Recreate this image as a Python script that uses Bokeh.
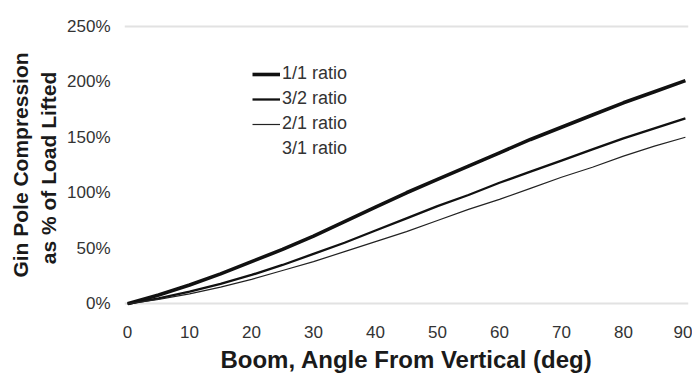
from bokeh.plotting import figure
from bokeh.models import Range1d, PrintfTickFormatter, FixedTicker, Legend, LegendItem
from bokeh.embed import file_html
from bokeh.resources import INLINE

angles = [0, 5, 10, 15, 20, 25, 30, 35, 40, 45, 50, 55, 60, 65, 70, 75, 80, 85, 90]
ratio_1_1 = [0, 8, 17, 27, 38, 49, 61, 74, 87, 100, 112, 124, 136, 148, 159, 170, 181, 191, 201]
ratio_3_2 = [0, 5, 11, 18, 26, 35, 45, 55, 66, 77, 88, 98, 109, 119, 129, 139, 149, 158, 167]
ratio_2_1 = [0, 4, 9, 15, 22, 30, 38, 47, 56, 65, 75, 85, 94, 104, 114, 123, 133, 142, 150]
ratio_3_1 = []  # legend entry only; no line is visible in the reference
x_ticks = [0, 10, 20, 30, 40, 50, 60, 70, 80, 90]
y_ticks = [0, 50, 100, 150, 200, 250]

FONT = "Liberation Sans"

p = figure(frame_width=564, frame_height=281, output_backend="svg", toolbar_location=None,
           x_range=Range1d(-0.5, 90.5), y_range=Range1d(-1.5, 251.5),
           min_border_left=124, min_border_right=4, min_border_top=24, min_border_bottom=70)
p.outline_line_color = None
p.background_fill_color = "white"

r11 = p.line(angles, ratio_1_1, line_color="#111111", line_width=3.6)
r32 = p.line(angles, ratio_3_2, line_color="#111111", line_width=2.3)
r21 = p.line(angles, ratio_2_1, line_color="#222222", line_width=1.2)
r31 = p.line(x=[], y=[], line_color="#222222", line_width=1.0, line_alpha=0)

p.xgrid.grid_line_color = None
p.ygrid.ticker = FixedTicker(ticks=[0, 250])
p.ygrid.grid_line_color = "#e2e2e2"
p.ygrid.grid_line_width = 2

p.xaxis.ticker = FixedTicker(ticks=x_ticks)
p.yaxis.ticker = FixedTicker(ticks=y_ticks)
p.yaxis.formatter = PrintfTickFormatter(format="%d%%")
for ax in (p.xaxis, p.yaxis):
    ax.axis_line_color = None
    ax.major_tick_line_color = None
    ax.minor_tick_line_color = None
    ax.major_label_text_font = FONT
    ax.major_label_text_font_size = "17px"
    ax.major_label_text_color = "#333333"
    ax.axis_label_text_font = FONT
    ax.axis_label_text_font_style = "bold"
    ax.axis_label_text_color = "#1a1a1a"
p.xaxis.major_label_standoff = 14
p.yaxis.major_label_standoff = 8
p.xaxis.axis_label = "Boom, Angle From Vertical (deg)"
p.xaxis.axis_label_text_font_size = "24px"
p.xaxis.axis_label_standoff = 5
p.yaxis.axis_label = "Gin Pole Compression\nas % of  Load Lifted"
p.yaxis.axis_label_text_font_size = "21px"
p.yaxis.axis_label_standoff = 4

legend = Legend(items=[
    LegendItem(label="1/1 ratio", renderers=[r11]),
    LegendItem(label="3/2 ratio", renderers=[r32]),
    LegendItem(label="2/1 ratio", renderers=[r21]),
    LegendItem(label="3/1 ratio", renderers=[r31]),
], location=(128, 146))
legend.border_line_color = None
legend.background_fill_alpha = 0
legend.padding = 0
legend.margin = 0
legend.spacing = 4
legend.glyph_width = 28
legend.glyph_height = 20
legend.label_height = 20
legend.label_standoff = 2
legend.label_text_font = FONT
legend.label_text_font_size = "18px"
legend.label_text_color = "#333333"
p.add_layout(legend, "center")

open("out.html", "w").write(file_html(p, INLINE))
